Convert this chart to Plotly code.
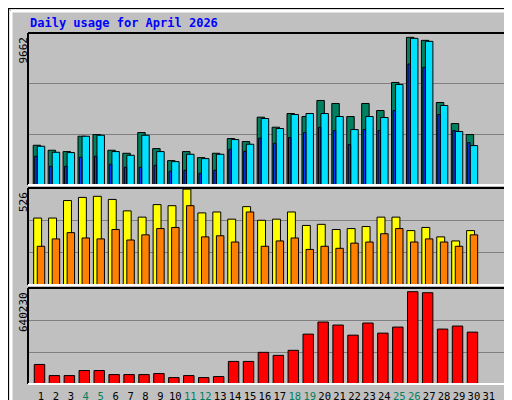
import plotly.graph_objects as go

days = list(range(1, 32))
weekend = [4, 5, 11, 12, 18, 19, 25, 26]
hits_y = [411,426,430,384,379,426,435,373,421,457,430,448,435,391,400,327,357,316,325,277,286,325,286,307,223,88,97,283,346,379]
files_y = [414,432,433,384,381,430,441,381,430,460,438,451,438,394,408,331,361,319,316,316,325,364,325,328,229,91,100,292,370,412]
pages_y = [444,474,474,447,444,468,477,477,471,489,486,495,486,423,429,390,405,388,373,357,367,409,364,367,307,168,178,319,367,403]
visits_y = [97,97,46,37,34,43,76,94,58,61,13,82,79,100,64,103,100,79,118,115,130,127,121,94,94,133,124,151,163,133]
sites_y = [178,157,139,154,157,130,160,145,127,124,61,151,148,166,79,178,163,154,187,178,184,169,166,142,127,166,157,166,178,145]
kb_y = [529,562,562,547,547,559,559,559,556,568,562,568,565,520,520,493,502,487,439,403,412,442,406,436,418,313,316,424,415,433]

hits = [round((530 - v) * 9662 / 455) for v in hits_y]
files = [round((530 - v) * 9662 / 455) for v in files_y]
pages = [round((530 - v) * 9662 / 455) for v in pages_y]
visits = [round((290 - v) * 526 / 280) for v in visits_y]
sites = [round((290 - v) * 526 / 280) for v in sites_y]
kbytes = [round((587 - v) * 640230 / 285) for v in kb_y]
maxes = [9662, 526, 640230]

x = days[:30]
W, H = 512, 400
fig = go.Figure()
def bar(y, color, off, w, ax):
    fig.add_trace(go.Bar(x=x, y=y, offset=off, width=w, marker=dict(color=color, line=dict(color="black", width=1)),
                         xaxis="x" + ("" if ax == 1 else str(ax)), yaxis="y" + ("" if ax == 1 else str(ax))))
bar(hits, "#008060", -0.52, 0.5, 1)
bar(files, "#00e0ff", -0.25, 0.5, 1)
bar(pages, "#0040ff", -0.42, 0.16, 1)
bar(visits, "#ffff00", -0.49, 0.53, 2)
bar(sites, "#ff8000", -0.25, 0.5, 2)
bar(kbytes, "#ff0000", -0.45, 0.7, 3)

xl, xr = 20, 497
panels = [(25, 177), (180, 277), (280, 376)]
font = dict(family="DejaVu Sans Mono", size=11, color="black")
ticktext = [f"<span style='color:{'#008060' if d in weekend else 'black'}'>{d}</span>" for d in days]
layout = dict(width=W, height=H, margin=dict(l=0, r=0, t=0, b=0), paper_bgcolor="#c0c0c0",
              plot_bgcolor="#c0c0c0", showlegend=False, barmode="overlay", font=font)
shapes = []
for i, (t, b) in enumerate(panels, start=1):
    s = "" if i == 1 else str(i)
    layout["xaxis" + s] = dict(domain=[xl / W, xr / W], range=[0.13, 32.08], anchor="y" + s,
                               tickvals=days, ticktext=ticktext if i == 3 else None,
                               showticklabels=(i == 3), ticks="", showgrid=False, zeroline=False,
                               tickangle=0, ticklabelstandoff=4,
                               tickfont=dict(family="DejaVu Sans Mono", size=10.5))
    m = maxes[i - 1]
    layout["yaxis" + s] = dict(domain=[1 - b / H, 1 - t / H], range=[0, m], anchor="x" + s,
                               tickvals=[m / 3, 2 * m / 3], showticklabels=False, ticks="",
                               gridcolor="#808080", gridwidth=1, zeroline=False)
    xs0, xs1, y0, y1 = xl / W, xr / W, 1 - b / H, 1 - t / H
    shapes += [dict(type="line", xref="paper", yref="paper", x0=xs0, x1=xs1, y0=y1, y1=y1, line=dict(color="black", width=2)),
               dict(type="line", xref="paper", yref="paper", x0=xs0, x1=xs0, y0=y0, y1=y1, line=dict(color="black", width=2)),
               dict(type="line", xref="paper", yref="paper", x0=xs0, x1=xs1, y0=y0, y1=y0, line=dict(color="white", width=2)),
               dict(type="line", xref="paper", yref="paper", x0=xs1, x1=xs1, y0=y0, y1=y1, line=dict(color="white", width=2))]
# outer frame
shapes += [dict(type="rect", xref="paper", yref="paper", x0=0, x1=1, y0=0, y1=1, line=dict(color="black", width=2), layer="below"),
           dict(type="line", xref="paper", yref="paper", x0=3 / W, x1=3 / W, y0=4 / H, y1=1 - 3 / H, line=dict(color="white", width=3), layer="below"),
           dict(type="line", xref="paper", yref="paper", x0=3 / W, x1=1 - 4 / W, y0=1 - 3 / H, y1=1 - 3 / H, line=dict(color="white", width=3), layer="below"),
           dict(type="line", xref="paper", yref="paper", x0=1 - 4 / W, x1=1 - 4 / W, y0=4 / H, y1=1 - 3 / H, line=dict(color="#808080", width=4), layer="below"),
           dict(type="line", xref="paper", yref="paper", x0=3 / W, x1=1 - 4 / W, y0=4 / H, y1=4 / H, line=dict(color="#808080", width=4), layer="below")]
layout["shapes"] = shapes

anns = [dict(text="<b>Daily usage for April 2026</b>", x=20 / W, y=1 - 15 / H, xref="paper", yref="paper",
             xanchor="left", yanchor="middle", showarrow=False,
             font=dict(family="DejaVu Sans Mono", size=12, color="#0000ff"))]
for (t, b), m in zip(panels, maxes):
    anns.append(dict(text=str(m), x=15 / W, y=1 - (t + 2) / H, xref="paper", yref="paper", textangle=-90,
                     xanchor="center", yanchor="top", showarrow=False, font=font))
right = ["<span style='color:#00e0ff'>Pages</span> / <span style='color:#0040ff'>Files</span> / <span style='color:#008060'>Hits</span>",
         "<span style='color:#ff8000'>Sites</span> / <span style='color:#ffff00'>Visits</span>",
         "<span style='color:#ff0000'>KBytes</span>"]
for (t, b), txt in zip(panels, right):
    anns.append(dict(text=txt, x=502 / W, y=1 - t / H, xref="paper", yref="paper", textangle=-90,
                     xanchor="center", yanchor="top", showarrow=False,
                     font=dict(family="DejaVu Sans Mono", size=11, color="black")))
layout["annotations"] = anns
fig.update_layout(**layout)
fig.write_html("out.html")
